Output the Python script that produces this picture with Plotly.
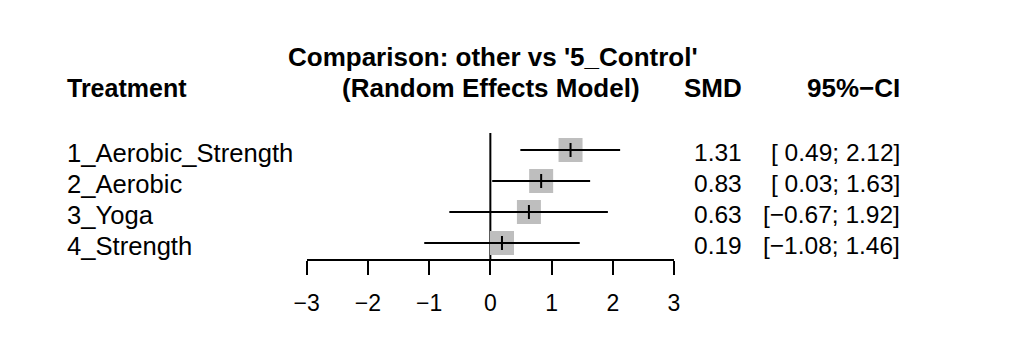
import plotly.graph_objects as go

# ---------------- data ----------------
treatments = ["1_Aerobic_Strength", "2_Aerobic", "3_Yoga", "4_Strength"]
smd = [1.31, 0.83, 0.63, 0.19]
ci_lower = [0.49, 0.03, -0.67, -1.08]
ci_upper = [2.12, 1.63, 1.92, 1.46]
x_ticks = [-3, -2, -1, 0, 1, 2, 3]

title_line1 = "Comparison: other vs '5_Control'"
title_line2 = "(Random Effects Model)"
header_treatment = "Treatment"
header_smd = "SMD"
header_ci = "95%\u2212CI"

# ---------------- layout constants (pixels) ----------------
W, H = 1017, 350
AX_LEFT, AX_RIGHT = 306.7, 674.0     # pixel position of -3 and 3
AX_Y = 259                            # pixel y of the x-axis line
ROW0, ROW_STEP = 150, 31              # first row y and row spacing
FONT = "Liberation Sans, Arial, sans-serif"
FS_LABEL = 25.6
FS_TXT = 24.5
FS_BOLD = 26
FS_TICK = 23

rows = [i + 1 for i in range(len(treatments))]


def row_of_px(p):
    return (p - ROW0) / ROW_STEP + 1


def px(x):
    return x / W


def py(y):
    return 1 - y / H


def fmt(v):
    return f"{v:.2f}".replace("-", "\u2212")


lo_strs = [fmt(v) for v in ci_lower]
hi_strs = [fmt(v) for v in ci_upper]
lo_w = max(len(s) for s in lo_strs)
hi_w = max(len(s) for s in hi_strs)
ci_text = ["[" + lo.rjust(lo_w) + "; " + hi.rjust(hi_w) + "]" for lo, hi in zip(lo_strs, hi_strs)]
smd_text = [fmt(v) for v in smd]

fig = go.Figure()

# reference line at 0
fig.add_trace(go.Scatter(
    x=[0, 0], y=[row_of_px(133), row_of_px(AX_Y)], mode="lines",
    line=dict(color="black", width=2), hoverinfo="skip", showlegend=False))

# squares
fig.add_trace(go.Scatter(
    x=smd, y=rows, mode="markers",
    marker=dict(symbol="square", size=24, color="#BEBEBE", line=dict(width=0)),
    showlegend=False))

# CI lines
cx, cy = [], []
for lo, hi, r in zip(ci_lower, ci_upper, rows):
    cx += [lo, hi, None]
    cy += [r, r, None]
fig.add_trace(go.Scatter(
    x=cx, y=cy, mode="lines", line=dict(color="black", width=2),
    hoverinfo="skip", showlegend=False))

# estimate tick
fig.add_trace(go.Scatter(
    x=smd, y=rows, mode="markers",
    marker=dict(symbol="line-ns", size=10, line=dict(width=2, color="black")),
    showlegend=False))

ann = []
# titles / headers
ann.append(dict(x=px(493), y=py(56.7), xref="paper", yref="paper", text="<b>" + title_line1 + "</b>",
                xanchor="center", yanchor="middle", showarrow=False,
                font=dict(family=FONT, size=FS_BOLD, color="black")))
ann.append(dict(x=px(490.5), y=py(87.8), xref="paper", yref="paper", text="<b>" + title_line2 + "</b>",
                xanchor="center", yanchor="middle", showarrow=False,
                font=dict(family=FONT, size=FS_BOLD, color="black")))
ann.append(dict(x=px(64.5), y=py(87.8), xref="paper", yref="paper", text="<b>" + header_treatment + "</b>",
                xanchor="left", yanchor="middle", showarrow=False,
                font=dict(family=FONT, size=25, color="black")))
ann.append(dict(x=px(744), y=py(87.8), xref="paper", yref="paper", text="<b>" + header_smd + "</b>",
                xanchor="right", yanchor="middle", showarrow=False,
                font=dict(family=FONT, size=FS_BOLD, color="black")))
ann.append(dict(x=px(902), y=py(87.8), xref="paper", yref="paper", text="<b>" + header_ci + "</b>",
                xanchor="right", yanchor="middle", showarrow=False,
                font=dict(family=FONT, size=FS_BOLD, color="black")))

TXT_OFF = 2.5 / ROW_STEP
for name, s, c, r in zip(treatments, smd_text, ci_text, rows):
    ann.append(dict(x=px(64.5), y=r + TXT_OFF, xref="paper", yref="y", text=name,
                    xanchor="left", yanchor="middle", showarrow=False,
                    font=dict(family=FONT, size=FS_LABEL, color="black")))
    ann.append(dict(x=px(743.5), y=r + TXT_OFF, xref="paper", yref="y", text=s,
                    xanchor="right", yanchor="middle", showarrow=False,
                    font=dict(family=FONT, size=FS_TXT, color="black")))
    ann.append(dict(x=px(902), y=r + TXT_OFF, xref="paper", yref="y", text=c,
                    xanchor="right", yanchor="middle", showarrow=False,
                    font=dict(family=FONT, size=FS_TXT, color="black")))

fig.update_layout(
    template="none",
    width=W, height=H,
    margin=dict(l=0, r=0, t=0, b=0, pad=0, autoexpand=False),
    paper_bgcolor="white", plot_bgcolor="white",
    annotations=ann,
    xaxis=dict(domain=[AX_LEFT / W, AX_RIGHT / W], range=[x_ticks[0], x_ticks[-1]],
               showline=True, linewidth=2, linecolor="black",
               ticks="outside", ticklen=14, tickwidth=2, tickcolor="black",
               tickvals=x_ticks, ticklabelstandoff=8, automargin=False,
               tickfont=dict(family=FONT, size=FS_TICK, color="black"),
               showgrid=False, zeroline=False, fixedrange=True),
    yaxis=dict(domain=[1 - AX_Y / H, 1], range=[row_of_px(AX_Y), row_of_px(0)],
               visible=False, automargin=False, fixedrange=True),
)

fig.write_html("out.html")
